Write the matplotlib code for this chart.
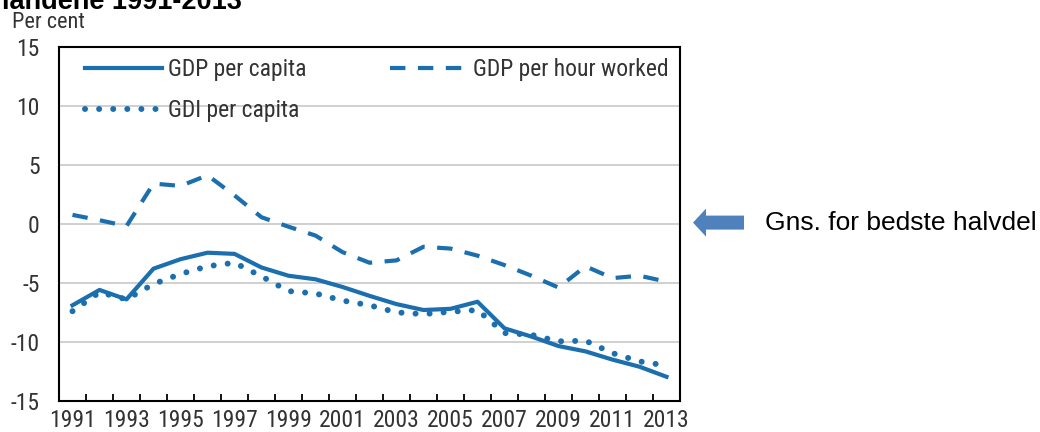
import matplotlib
matplotlib.use("Agg")
import matplotlib.pyplot as plt
from matplotlib.patches import FancyArrow

# values (per cent)
years = list(range(1991, 2014))
gdp_per_capita = [-6.9, -5.6, -6.4, -3.8, -3.0, -2.45, -2.55, -3.7, -4.4, -4.7, -5.35, -6.1,
                  -6.8, -7.3, -7.2, -6.6, -8.85, -9.55, -10.35, -10.8, -11.5, -12.1, -12.95]
gdi_per_capita = [-7.4, -5.8, -6.4, -5.1, -4.25, -3.6, -3.3, -4.45, -5.7, -5.9, -6.5, -6.9,
                  -7.5, -7.65, -7.45, -7.3, -9.25, -9.4, -9.95, -9.9, -10.95, -11.65, -12.0]
gdp_per_hour = [0.75, 0.3, -0.2, 3.4, 3.2, 4.1, 2.4, 0.55, -0.25, -1.0, -2.4, -3.3,
                -3.1, -1.95, -2.1, -2.7, -3.5, -4.4, -5.4, -3.6, -4.6, -4.4, -4.9]
y_ticks = [15, 10, 5, 0, -5, -10, -15]
x_labels = years[::2]

plt.rcParams['font.family'] = ['Roboto Condensed', 'DejaVu Sans']
plt.rcParams['axes.unicode_minus'] = False

W, H = 1040, 432
fig = plt.figure(figsize=(W / 100, H / 100), dpi=100)
ax = fig.add_axes([59 / W, 31 / H, 621 / W, 354.5 / H])

blue = '#1c6fae'
ax.plot(years, gdp_per_capita, color=blue, lw=3, label='GDP per capita', zorder=4)
ax.plot(years, gdi_per_capita, color=blue, lw=4.3, ls=(0, (0.01, 2.35)),
        dash_capstyle='round', label='GDI per capita', zorder=3)
ax.plot(years, gdp_per_hour, color=blue, lw=3, ls=(0, (3.7, 3.0)),
        label='GDP per hour worked', zorder=3)

ax.set_xlim(1990.5, 2013.5)
ax.set_ylim(-15, 15)
ax.set_yticks(y_ticks)
ax.set_xticks(x_labels)
ax.set_xticks([y + 0.5 for y in years[:-1]], minor=True)
ax.tick_params(axis='y', length=0, pad=14, labelsize=17, labelcolor='#333333')
ax.tick_params(axis='x', which='major', length=0, pad=6, labelsize=17, labelcolor='#333333')
ax.tick_params(axis='x', which='minor', direction='in', length=5, width=1.3)
ax.yaxis.grid(True, color='#c8c8c8', lw=1.2)
ax.set_axisbelow(True)
for sp in ax.spines.values():
    sp.set_linewidth(1.5)
    sp.set_color('black')

ax.legend(ncol=2, loc='upper left', bbox_to_anchor=(0.042, 0.967), frameon=False,
          fontsize=17, handlelength=3.26, handletextpad=0.25, labelspacing=0.77,
          columnspacing=3.55, borderpad=0, borderaxespad=0, labelcolor='#333333')

fig.text(12 / W, 1 - 28 / H, 'Per cent', fontsize=16, color='#333333', va='baseline')
fig.text(2 / W, 1 - 9 / H, 'landene 1991-2013', fontsize=19.5, fontweight='bold',
         family='Liberation Sans', va='baseline')

# arrow + note on the right
ov = fig.add_axes([0, 0, 1, 1])
ov.set_xlim(0, W)
ov.set_ylim(H, 0)
ov.axis('off')
ov.add_patch(FancyArrow(744, 222.6, -51, 0, width=14, head_width=28, head_length=13,
                        length_includes_head=True, color='#4f81bd', lw=0))
ov.text(765, 223, 'Gns. for bedste halvdel', fontsize=19, family='Liberation Sans',
        va='center', color='black')

fig.savefig('out.png', dpi=100)
